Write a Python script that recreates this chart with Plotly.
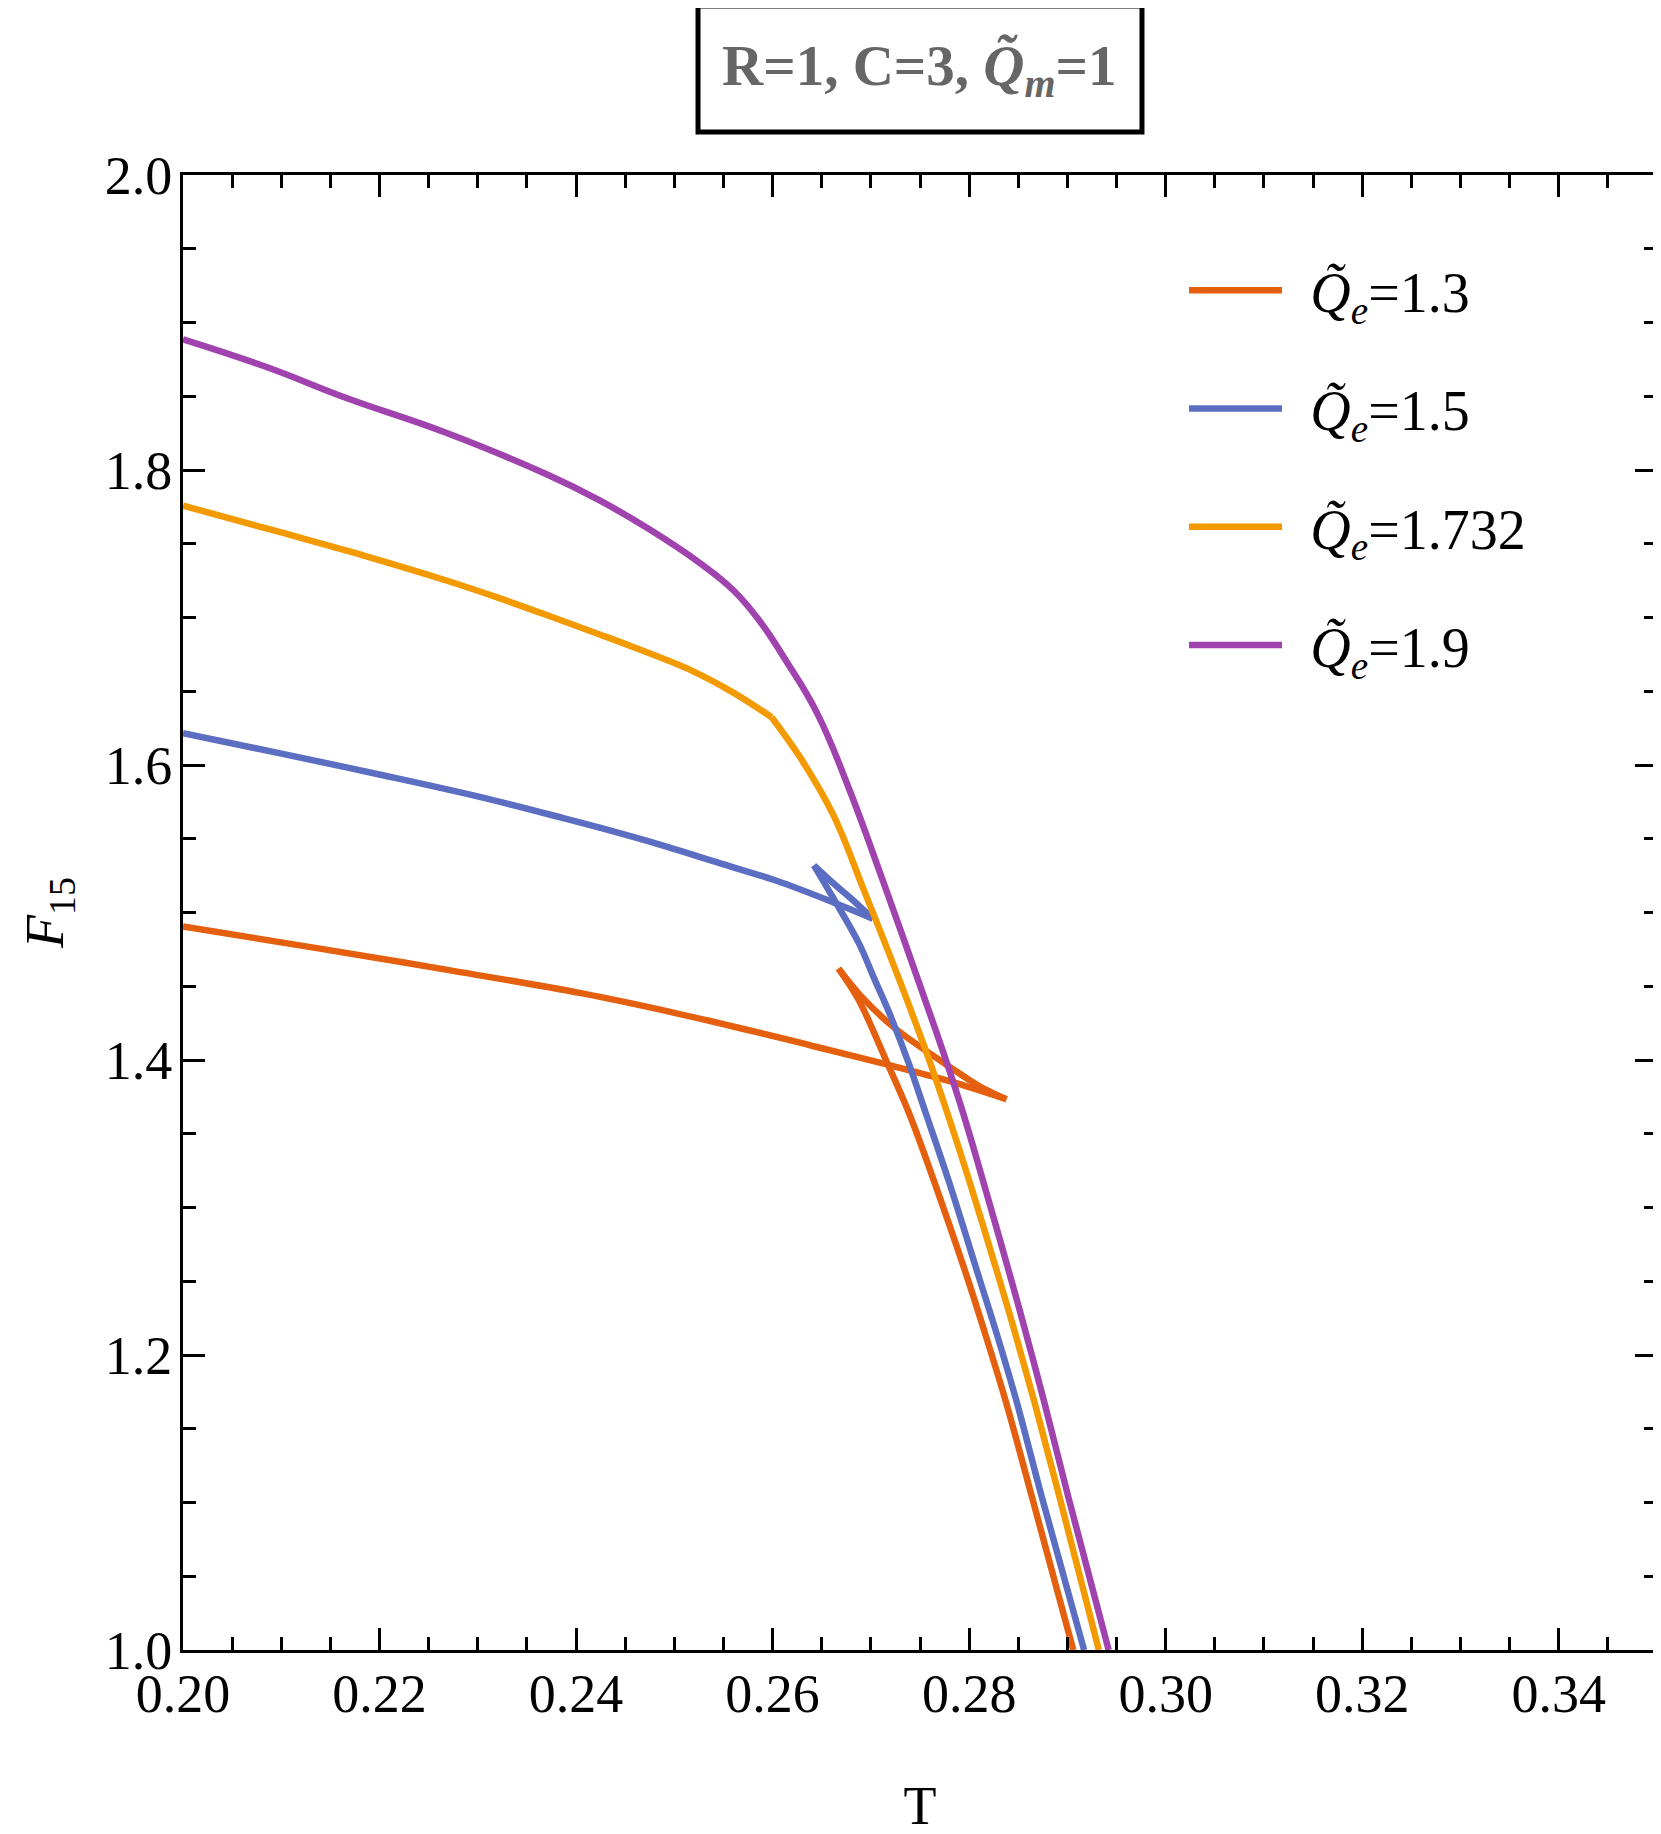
import plotly.graph_objects as go

# ---- data ----
# Q_e = 1.3 : small-BH branch, unstable branch, large-BH branch
T_13_small = [0.2000, 0.2133, 0.2269, 0.2405, 0.2500, 0.2577, 0.2628, 0.2645, 0.2713, 0.2781, 0.2838]
F_13_small = [1.4905, 1.4762, 1.4611, 1.4453, 1.4320, 1.4200, 1.4118, 1.4088, 1.3975, 1.3855, 1.3734]
T_13_mid = [0.2838, 0.2811, 0.2781, 0.2750, 0.2720, 0.2689, 0.2667]
F_13_mid = [1.3734, 1.3820, 1.3950, 1.4090, 1.4240, 1.4440, 1.4620]
T_13_large = [0.2667, 0.2675, 0.2689, 0.2716, 0.2739, 0.2764, 0.2799, 0.2816, 0.2837, 0.2864, 0.2906]
F_13_large = [1.4620, 1.4543, 1.4390, 1.3990, 1.3637, 1.3184, 1.2506, 1.2150, 1.1692, 1.1036, 1.0000]

# Q_e = 1.5
T_15_small = [0.2000, 0.2099, 0.2201, 0.2303, 0.2387, 0.2424, 0.2492, 0.2543, 0.2604, 0.2662, 0.2702]
F_15_small = [1.6216, 1.6079, 1.5934, 1.5782, 1.5640, 1.5575, 1.5447, 1.5341, 1.5215, 1.5068, 1.4958]
T_15_mid = [0.2702, 0.2679, 0.2665, 0.2642]
F_15_mid = [1.4958, 1.5100, 1.5180, 1.5320]
T_15_large = [0.2642, 0.2662, 0.2688, 0.2704, 0.2719, 0.2738, 0.2756, 0.2779, 0.2811, 0.2827, 0.2848, 0.2874, 0.2917]
F_15_large = [1.5320, 1.5095, 1.4789, 1.4543, 1.4315, 1.3987, 1.3637, 1.3184, 1.2506, 1.2167, 1.1692, 1.1036, 1.0000]

# Q_e = 1.732 (kink at T~0.26)
T_1732_a = [0.2000, 0.2099, 0.2184, 0.2268, 0.2319, 0.2377, 0.2424, 0.2458, 0.2516, 0.2560, 0.2599]
F_1732_a = [1.7759, 1.7578, 1.7420, 1.7251, 1.7138, 1.7000, 1.6885, 1.6800, 1.6645, 1.6491, 1.6324]
T_1732_b = [0.2599, 0.2628, 0.2662, 0.2693, 0.2729, 0.2760, 0.2778, 0.2800, 0.2831, 0.2846, 0.2866, 0.2892, 0.2932]
F_1732_b = [1.6324, 1.6052, 1.5658, 1.5150, 1.4543, 1.3987, 1.3637, 1.3184, 1.2506, 1.2167, 1.1692, 1.1036, 1.0000]

# Q_e = 1.9
T_19 = [0.2000, 0.2085, 0.2167, 0.2265, 0.2370, 0.2424, 0.2475, 0.2526, 0.2560, 0.2587, 0.2614,
        0.2645, 0.2676, 0.2712, 0.2748, 0.2777, 0.2794, 0.2814, 0.2843, 0.2857, 0.2876, 0.2901, 0.2942]
F_19 = [1.8886, 1.8698, 1.8486, 1.8259, 1.7971, 1.7794, 1.7596, 1.7369, 1.7185, 1.6975, 1.6703,
        1.6355, 1.5870, 1.5220, 1.4543, 1.3987, 1.3637, 1.3184, 1.2506, 1.2167, 1.1692, 1.1036, 1.0000]

names = ["\u00a0\u2006<i>Q̃</i><sub><i>e</i></sub>=1.3",
         "\u00a0\u2006<i>Q̃</i><sub><i>e</i></sub>=1.5",
         "\u00a0\u2006<i>Q̃</i><sub><i>e</i></sub>=1.732",
         "\u00a0\u2006<i>Q̃</i><sub><i>e</i></sub>=1.9"]
colors = ["#E4600F", "#5B6EC2", "#F29A00", "#A043AE"]
smooth = [1.0, 1.0, 1.0, 1.25]

branches = [
    [(T_13_small, F_13_small), (T_13_mid, F_13_mid), (T_13_large, F_13_large)],
    [(T_15_small, F_15_small), (T_15_mid, F_15_mid), (T_15_large, F_15_large)],
    [(T_1732_a, F_1732_a), (T_1732_b, F_1732_b)],
    [(T_19, F_19)],
]

FONT = "Liberation Serif, Times New Roman, serif"

fig = go.Figure()
for i, (name, c, s, parts) in enumerate(zip(names, colors, smooth, branches)):
    for j, (t, f) in enumerate(parts):
        fig.add_trace(go.Scatter(x=t, y=f, mode="lines", name=name,
                                 line=dict(color=c, width=6.5, shape="spline", smoothing=s),
                                 legendgroup=f"g{i}", showlegend=(j == 0)))

axis_common = dict(
    showline=True, linecolor="black", linewidth=3, mirror="ticks",
    ticks="inside", ticklen=22, tickwidth=2.5, tickcolor="black",
    showgrid=False, zeroline=False, automargin=False,
    tickfont=dict(family=FONT, size=54, color="black"),
)

# the page adds an 8 px body margin, so margins are reduced by 8 on left/top
fig.update_layout(
    width=1661, height=1834,
    margin=dict(l=175, r=12, t=167, b=192),
    paper_bgcolor="white", plot_bgcolor="white",
    font=dict(family=FONT, color="black"),
    xaxis=dict(range=[0.20, 0.35], dtick=0.02, tick0=0.20, tickformat=".2f",
               minor=dict(dtick=0.005, ticklen=13, tickwidth=2.5, ticks="inside", tickcolor="black"),
               ticklabelstandoff=-6,
               title=dict(text="T", font=dict(family=FONT, size=54), standoff=64),
               **axis_common),
    yaxis=dict(range=[1.0, 2.0], dtick=0.2, tick0=1.0, tickformat=".1f",
               minor=dict(dtick=0.05, ticklen=13, tickwidth=2.5, ticks="inside", tickcolor="black"),
               ticklabelstandoff=-3,
               title=dict(text="<i>F</i><sub>15</sub>", font=dict(family=FONT, size=54), standoff=24),
               **axis_common),
    showlegend=True,
    legend=dict(x=0.6791, y=0.951, xanchor="left", yanchor="top",
                font=dict(family=FONT, size=56, color="black"),
                bgcolor="rgba(0,0,0,0)", itemwidth=93, tracegroupgap=42.5,
                itemclick=False),
)

# title box
fig.add_shape(type="rect", xref="paper", yref="paper",
              x0=0.3494, x1=0.6506, y0=1.0292, y1=1.1146,
              line=dict(color="black", width=5), fillcolor="white")
fig.add_annotation(xref="paper", yref="paper", x=0.4993, y=1.0715,
                   xanchor="center", yanchor="middle", showarrow=False,
                   text="<b>R=1, C=3, <i>Q̃</i><sub><i>m</i></sub>=1</b>",
                   font=dict(family=FONT, size=57, color="#666666"))

fig.write_html("out.html")
